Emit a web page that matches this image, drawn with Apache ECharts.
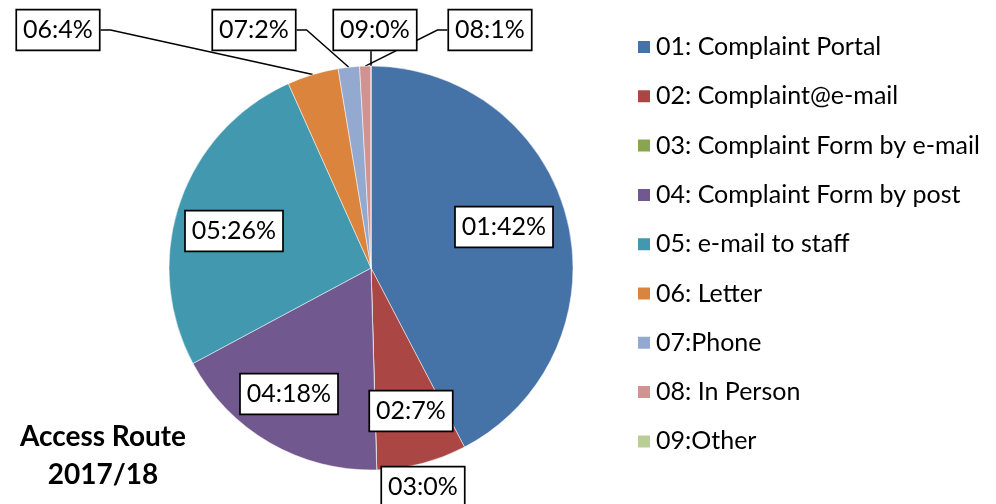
<!DOCTYPE html>
<html>
<head>
<meta charset="utf-8">
<script src="https://cdn.jsdelivr.net/npm/echarts@6/dist/echarts.min.js"></script>
<style>
html,body{margin:0;padding:0;background:#fff;}
#chart{width:996px;height:504px;}
</style>
</head>
<body>
<div id="chart"></div>
<script>
// ---- data ----
const categories = ['01: Complaint Portal','02: Complaint@e-mail','03: Complaint Form by e-mail','04: Complaint Form by post','05: e-mail to staff','06: Letter','07:Phone','08: In Person','09:Other'];
const codes = ['01','02','03','04','05','06','07','08','09'];
const values = [42.3, 7.2, 0, 17.6, 26.1, 4.1, 1.7, 0.9, 0];
const colors = ['#4572A7','#AA4643','#89A54E','#71588F','#4198AF','#DB843D','#93A9CF','#D19392','#B9CD96'];
const titleLines = ['Access Route','2017/18'];

// ---- layout (label box centres) ----
const FONT = 'Lato, "Noto Sans", sans-serif';
const labelPos = [[504,227],[411,411],[423,487],[289,394],[234,231],[58,30],[254,30],[490,30],[375,30]];
const outside = [false,false,true,false,false,true,true,true,true];
const leaderSide = [null,null,'none',null,null,'right','right','left','bottom'];

const data = categories.map((c,i)=>({
  name: c,
  value: values[i],
  itemStyle: {color: colors[i]},
  label: {position: outside[i] ? 'outside' : 'inside'},
  labelLine: {show: outside[i] && leaderSide[i] !== 'none'}
}));

const chart = echarts.init(document.getElementById('chart'), null, {renderer:'canvas'});
chart.setOption({
  animation: false,
  backgroundColor: '#fff',
  legend: {
    orient: 'vertical',
    left: 631, top: 27,
    icon: 'rect',
    itemWidth: 14, itemHeight: 14,
    itemGap: 19.3,
    data: categories,
    selectedMode: false,
    textStyle: {fontFamily: FONT, fontSize: 25, color: '#000', lineHeight: 30}
  },
  graphic: [{
    type: 'text', x: 103, y: 456,
    style: {text: titleLines.join('\n'), font: 'bold 28px ' + FONT, fill: '#000', align: 'center', verticalAlign: 'middle', lineHeight: 38}
  }],
  series: [{
    type: 'pie',
    center: [371, 268],
    radius: 202,
    startAngle: 90,
    clockwise: true,
    avoidLabelOverlap: false,
    stillShowZeroSum: true,
    itemStyle: {borderColor: '#fff', borderWidth: 0.5},
    label: {
      show: true,
      formatter: p => codes[p.dataIndex] + ':' + Math.round(p.percent) + '%',
      fontFamily: FONT, fontSize: 25, color: '#000', lineHeight: 30,
      backgroundColor: '#fff', borderColor: '#000', borderWidth: 1.7,
      padding: [5, 6, 4, 6]
    },
    labelLine: {show: true, length: 10, length2: 10, lineStyle: {color: '#000', width: 1.5}},
    emphasis: {disabled: true},
    labelLayout: function (params) {
      const i = params.dataIndex;
      const [x, y] = labelPos[i];
      const w = params.labelRect.width, h = params.labelRect.height;
      const out = {x: x, y: y, align: 'center', verticalAlign: 'middle'};
      const p0 = params.labelLinePoints && params.labelLinePoints[0];
      if (p0) {
        const side = leaderSide[i];
        if (side === 'right') {
          out.labelLinePoints = [p0, [x + w/2 + 10, y], [x + w/2, y]];
        } else if (side === 'left') {
          out.labelLinePoints = [p0, [x - w/2 - 10, y], [x - w/2, y]];
        } else if (side === 'bottom') {
          out.labelLinePoints = [p0, [p0[0], y + h/2], [p0[0], y + h/2]];
        }
      }
      return out;
    },
    data: data
  }]
});
</script>
</body>
</html>
